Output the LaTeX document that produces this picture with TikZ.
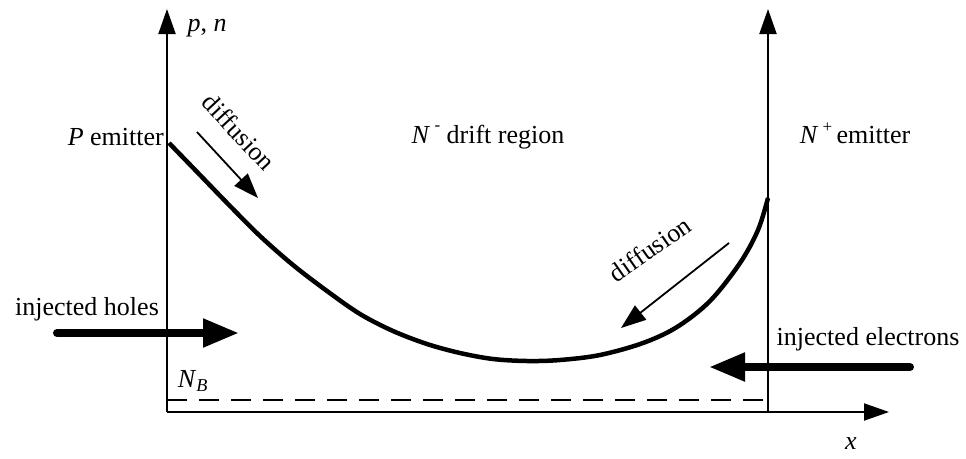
\documentclass[tikz,border=0pt]{standalone}
\usepackage{fontspec}
\setmainfont{Liberation Serif}
\usetikzlibrary{arrows.meta}
\begin{document}
\begin{tikzpicture}[x=1pt,y=-1pt,
  lbl/.style={inner sep=0pt,font=\fontsize{26}{30}\selectfont},
  axis/.style={line width=2pt,-{Triangle[length=25pt,width=17pt]}},
  thinarrow/.style={line width=1.8pt,-{Triangle[length=25pt,width=18pt]}},
  fatarrow/.style={line width=8pt,line cap=round,-{Triangle[length=36pt,width=27pt]}},
  dens/.style={line width=4.5pt,line join=round}]
\useasboundingbox (0,0) rectangle (966,458);
% axes
\coordinate (O) at (167,412);
\coordinate (Ytop) at (167,9);
\coordinate (Xend) at (889,412);
\coordinate (Rb) at (768,412);
\coordinate (Rt) at (768,9);
\coordinate (NBl) at (167,400);
\coordinate (NBr) at (767,400);
\draw[line width=2pt] (O) -- (Rb);
\draw[axis] (Rb) -- (Xend);
\draw[axis] (O) -- (Ytop);
\draw[axis] (Rb) -- (Rt);
\draw[line width=2pt,dash pattern=on 20pt off 12pt] (NBl) -- (NBr);
% carrier profile
\draw[dens] plot[smooth,tension=0.55] coordinates {(169,143) (200,175) (230,206) (260,236) (293,265) (327,291) (360,314) (393,331) (427,344) (460,353) (493,359) (527,361) (560,360) (600,355) (643,343) (677,327) (710,301) (740,263) (758,230) (768,198)};
% labels
\node[lbl] (pn) at (207,28) {\textit{p}, \textit{n}};
\node[lbl,anchor=east] (pem) at (164,137) {\textit{P} emitter};
\node[lbl] (drift) at (488,137) {\textit{N}\,\raisebox{0.5em}{\fontsize{17}{18}\selectfont -} drift region};
\node[lbl] (nem) at (855,133) {\textit{N}\,\raisebox{0.42em}{\fontsize{17}{18}\selectfont +}\,emitter};
\node[lbl] (holes) at (87,309) {injected holes};
\node[lbl] (elec) at (868,339) {injected electrons};
\node[lbl] (NB) at (193,381) {\textit{N}\textsubscript{\textit{B}}};
\node[lbl] (xl) at (851,444) {\textit{x}};
\node[lbl,rotate=-47] (dl) at (239,132) {diffusion};
\node[lbl,rotate=35] (dr) at (650,249) {diffusion};
% diffusion arrows
\coordinate (d1s) at (197,132);
\coordinate (d1e) at (258,198);
\coordinate (d2s) at (729,243);
\coordinate (d2e) at (621,328);
\draw[thinarrow] (d1s) -- (d1e);
\draw[thinarrow] (d2s) -- (d2e);
% injection arrows
\coordinate (h1) at (57,333);
\coordinate (h2) at (239,333);
\coordinate (e1) at (910,367);
\coordinate (e2) at (709,367);
\draw[fatarrow] (h1) -- (h2);
\draw[fatarrow] (e1) -- (e2);
\end{tikzpicture}
\end{document}
